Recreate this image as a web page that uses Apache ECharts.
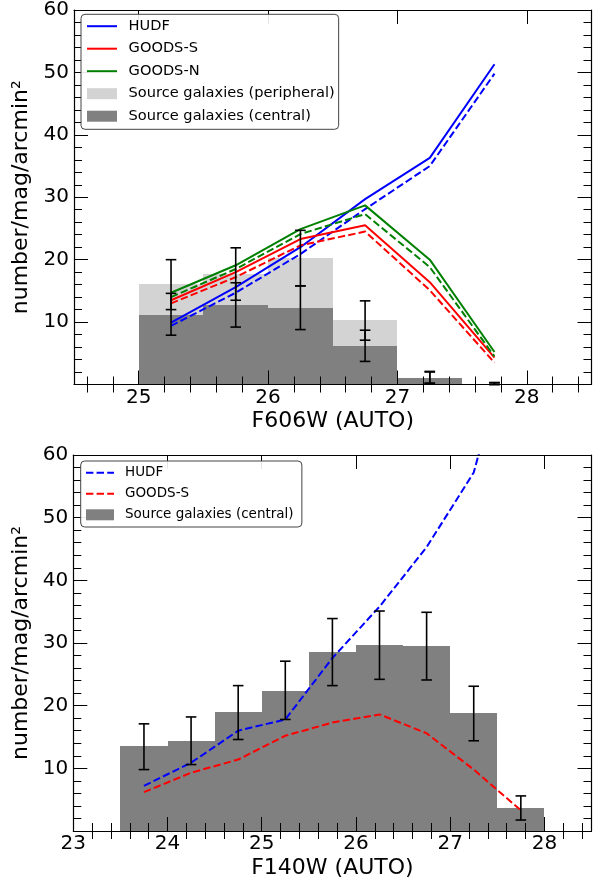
<!DOCTYPE html>
<html><head><meta charset="utf-8">
<script src="https://cdn.jsdelivr.net/npm/echarts@6/dist/echarts.min.js"></script>
<style>html,body{margin:0;padding:0;background:#fff}#c{width:605px;height:884px}</style>
</head><body><div id="c"></div>
<script>
// ---------- Top panel (F606W) ----------
const topBinEdges = [25, 25.5, 26, 26.5, 27, 27.5, 28];
const topCenters = [25.25, 25.75, 26.25, 26.75, 27.25, 27.75];
const topPeripheral = [16.1, 17.7, 20.3, 10.3, 1.1, 0];
const topCentral = [11.2, 12.8, 12.3, 6.2, 1.1, 0];
const topPeriphErrLow = [12.0, 13.5, 15.8, 7.1, 0.2, 0];
const topPeriphErrHigh = [20.0, 21.9, 24.7, 13.4, 2.0, 0.3];
const topCentralErrLow = [7.9, 9.2, 8.8, 3.7, 0.2, 0];
const topCentralErrHigh = [14.6, 16.3, 15.8, 8.7, 2.1, 0.3];
const topHUDF = [9.9, 15.6, 22.0, 29.7, 36.3, 51.3];
const topHUDFdash = [9.4, 14.7, 20.9, 28.1, 35.0, 49.8];
const topGOODSS = [13.5, 18.0, 23.3, 25.5, 16.4, 4.3];
const topGOODSSdash = [13.0, 17.2, 22.3, 24.5, 15.1, 3.5];
const topGOODSN = [14.7, 19.1, 24.9, 28.7, 20.0, 5.2];
const topGOODSNdash = [14.0, 18.5, 24.1, 27.3, 18.8, 4.5];
const topXMajor = [25, 26, 27, 28];
const topXMinor = [24.6, 24.8, 25.2, 25.4, 25.6, 25.8, 26.2, 26.4, 26.6, 26.8, 27.2, 27.4, 27.6, 27.8, 28.2, 28.4];

// ---------- Bottom panel (F140W) ----------
const botBinEdges = [23.5, 24, 24.5, 25, 25.5, 26, 26.5, 27, 27.5, 28];
const botCenters = [23.75, 24.25, 24.75, 25.25, 25.75, 26.25, 26.75, 27.25, 27.75];
const botCentral = [13.5, 14.4, 19.0, 22.4, 28.6, 29.7, 29.5, 18.8, 3.7];
const botErrLow = [9.8, 10.6, 14.6, 17.8, 23.2, 24.2, 24.1, 14.4, 1.75];
const botErrHigh = [17.1, 18.2, 23.2, 27.1, 33.9, 35.1, 34.9, 23.1, 5.6];
const botHUDF = [7.2, 10.9, 16.0, 17.8, 27.6, 35.8, 45.3, 57.2, 85];
const botGOODSS = [6.2, 9.3, 11.4, 15.2, 17.3, 18.6, 15.6, 9.8, 3.3];
const botXMajor = [23, 24, 25, 26, 27, 28];
const botXMinor = [23.2, 23.4, 23.6, 23.8, 24.2, 24.4, 24.6, 24.8, 25.2, 25.4, 25.6, 25.8, 26.2, 26.4, 26.6, 26.8, 27.2, 27.4, 27.6, 27.8, 28.2, 28.4];
const yLabels = [10, 20, 30, 40, 50, 60];

const FONT = 'DejaVu Sans';
const BLUE = '#0000ff', RED = '#ff0000', GREEN = '#008000', LIGHT = '#d3d3d3', DARK = '#808080';

function hist(edges, vals) { return vals.map((v, i) => [edges[i], edges[i + 1], v]); }
function errs(xs, lo, hi) { return xs.map((x, i) => [x, lo[i], hi[i]]); }
function pts(xs, ys) { return xs.map((x, i) => [x, ys[i]]); }

function renderBar(params, api) {
  const p0 = api.coord([api.value(0), 0]);
  const p1 = api.coord([api.value(1), api.value(2)]);
  const x0 = Math.round(p0[0]), x1 = Math.round(p1[0]);
  const y0 = Math.round(p0[1]), y1 = Math.round(p1[1]);
  return { type: 'rect', shape: { x: x0, y: y1, width: x1 - x0, height: y0 - y1 },
           style: { fill: api.visual('color') } };
}
function renderErr(params, api) {
  const x = api.value(0);
  const lo = api.coord([x, api.value(1)]);
  const hi = api.coord([x, api.value(2)]);
  const w = 5.3;
  const st = { stroke: '#000', lineWidth: 1.6 };
  return { type: 'group', children: [
    { type: 'line', shape: { x1: lo[0], y1: lo[1], x2: hi[0], y2: hi[1] }, style: st },
    { type: 'line', shape: { x1: lo[0] - w, y1: lo[1], x2: lo[0] + w, y2: lo[1] }, style: st },
    { type: 'line', shape: { x1: hi[0] - w, y1: hi[1], x2: hi[0] + w, y2: hi[1] }, style: st }
  ] };
}

function xAxes(grid, min, max, major, minor, name) {
  const common = { type: 'value', gridIndex: grid, min: min, max: max, z: 10, splitLine: { show: false } };
  const line = { show: true, onZero: false, lineStyle: { color: '#000', width: 1.2 } };
  return [
    Object.assign({}, common, { position: 'bottom', axisLine: line,
      axisTick: { show: true, inside: true, length: 14, customValues: major, lineStyle: { color: '#000', width: 1 } },
      axisLabel: { show: true, customValues: major, fontSize: 20, fontFamily: FONT, color: '#000', margin: 3 },
      name: name, nameLocation: 'middle', nameGap: 26,
      nameTextStyle: { fontSize: 22, fontFamily: FONT, color: '#000' } }),
    Object.assign({}, common, { position: 'bottom', axisLine: { show: false },
      axisTick: { show: true, inside: true, length: 8, customValues: minor, lineStyle: { color: '#000', width: 1 } },
      axisLabel: { show: false } }),
    Object.assign({}, common, { position: 'top', axisLine: line,
      axisTick: { show: true, inside: true, length: 14, customValues: major, lineStyle: { color: '#000', width: 1 } },
      axisLabel: { show: false } }),
    Object.assign({}, common, { position: 'top', axisLine: { show: false },
      axisTick: { show: true, inside: true, length: 8, customValues: minor, lineStyle: { color: '#000', width: 1 } },
      axisLabel: { show: false } })
  ];
}
function yAxes(grid) {
  const common = { type: 'value', gridIndex: grid, min: 0, max: 60, interval: 10, z: 10,
    splitLine: { show: false }, minorSplitLine: { show: false },
    axisLine: { show: true, onZero: false, lineStyle: { color: '#000', width: 1.2 } },
    axisTick: { show: true, inside: true, length: 14, lineStyle: { color: '#000', width: 1 } },
    minorTick: { show: true, splitNumber: 5, length: 8, lineStyle: { color: '#000', width: 1 } } };
  return [
    Object.assign({}, common, { position: 'left',
      axisLabel: { show: true, customValues: yLabels, fontSize: 20, fontFamily: FONT, color: '#000', margin: 5 },
      name: 'number/mag/arcmin\u00B2', nameLocation: 'middle', nameGap: 36, nameRotate: 90,
      nameTextStyle: { fontSize: 22, fontFamily: FONT, color: '#000' } }),
    Object.assign({}, common, { position: 'right', axisLabel: { show: false } })
  ];
}

function lineS(name, xi, yi, xs, ys, color, dashed) {
  return { type: 'line', name: name, xAxisIndex: xi, yAxisIndex: yi, data: pts(xs, ys), symbol: 'none',
    lineStyle: { color: color, width: 2, type: dashed ? [7.4, 3.2] : 'solid' }, itemStyle: { color: color },
    z: 4, animation: false, clip: true };
}
function barS(name, xi, yi, edges, vals, color, z) {
  return { type: 'custom', name: name, xAxisIndex: xi, yAxisIndex: yi, data: hist(edges, vals),
    renderItem: renderBar, itemStyle: { color: color }, encode: { x: [0, 1], y: 2 }, z: z, animation: false };
}
function errS(name, xi, yi, xs, lo, hi) {
  return { type: 'custom', name: name, xAxisIndex: xi, yAxisIndex: yi, data: errs(xs, lo, hi),
    renderItem: renderErr, encode: { x: 0, y: [1, 2] }, z: 5, animation: false };
}

const noSym = { opacity: 0 };
const chart = echarts.init(document.getElementById('c'), null, { renderer: 'canvas' });
chart.setOption({
  animation: false,
  backgroundColor: '#fff',
  textStyle: { fontFamily: FONT },
  grid: [
    { left: 74, right: 13.5, top: 6, height: 378.5, show: false },
    { left: 73.3, right: 13.5, top: 455, height: 376, show: false }
  ],
  xAxis: [].concat(
    xAxes(0, 24.5, 28.5, topXMajor, topXMinor, 'F606W (AUTO)'),
    xAxes(1, 23, 28.5, botXMajor, botXMinor, 'F140W (AUTO)')
  ),
  yAxis: [].concat(yAxes(0), yAxes(1)),
  legend: [
    { orient: 'vertical', left: 81, top: 14.3, z: 20,
      padding: [4.4, 4, 5.6, 5], itemWidth: 30, itemHeight: 11, itemGap: 7.5,
      backgroundColor: 'rgba(255,255,255,0.9)', borderColor: '#444', borderWidth: 1, borderRadius: 4,
      textStyle: { fontSize: 14.6, fontFamily: FONT, color: '#000', lineHeight: 14, padding: [0, 0, 0, 6.6] },
      selectedMode: false,
      data: [{ name: 'HUDF', itemStyle: noSym }, { name: 'GOODS-S', itemStyle: noSym }, { name: 'GOODS-N', itemStyle: noSym },
             { name: 'Source galaxies (peripheral)', icon: 'rect' }, { name: 'Source galaxies (central)', icon: 'rect' }] },
    { orient: 'vertical', left: 80.7, top: 461, z: 20,
      padding: [4.8, 4, 5.2, 4.3], itemWidth: 28, itemHeight: 11, itemGap: 7,
      backgroundColor: 'rgba(255,255,255,0.9)', borderColor: '#444', borderWidth: 1, borderRadius: 4,
      textStyle: { fontSize: 13.5, fontFamily: FONT, color: '#000', lineHeight: 13, padding: [0, 0, 0, 6] },
      selectedMode: false,
      data: [{ name: 'HUDF ', itemStyle: noSym }, { name: 'GOODS-S ', itemStyle: noSym }, { name: 'Source galaxies (central) ', icon: 'rect' }] }
  ],
  series: [
    barS('Source galaxies (peripheral)', 0, 0, topBinEdges, topPeripheral, LIGHT, 1),
    barS('Source galaxies (central)', 0, 0, topBinEdges, topCentral, DARK, 2),
    lineS('HUDF', 0, 0, topCenters, topHUDF, BLUE, false),
    lineS('HUDF dashed', 0, 0, topCenters, topHUDFdash, BLUE, true),
    lineS('GOODS-S', 0, 0, topCenters, topGOODSS, RED, false),
    lineS('GOODS-S dashed', 0, 0, topCenters, topGOODSSdash, RED, true),
    lineS('GOODS-N', 0, 0, topCenters, topGOODSN, GREEN, false),
    lineS('GOODS-N dashed', 0, 0, topCenters, topGOODSNdash, GREEN, true),
    errS('err peripheral', 0, 0, topCenters, topPeriphErrLow, topPeriphErrHigh),
    errS('err central', 0, 0, topCenters, topCentralErrLow, topCentralErrHigh),

    barS('Source galaxies (central) ', 4, 2, botBinEdges, botCentral, DARK, 2),
    lineS('HUDF ', 4, 2, botCenters, botHUDF, BLUE, true),
    lineS('GOODS-S ', 4, 2, botCenters, botGOODSS, RED, true),
    errS('err bottom', 4, 2, botCenters, botErrLow, botErrHigh)
  ]
});
</script>
</body></html>
